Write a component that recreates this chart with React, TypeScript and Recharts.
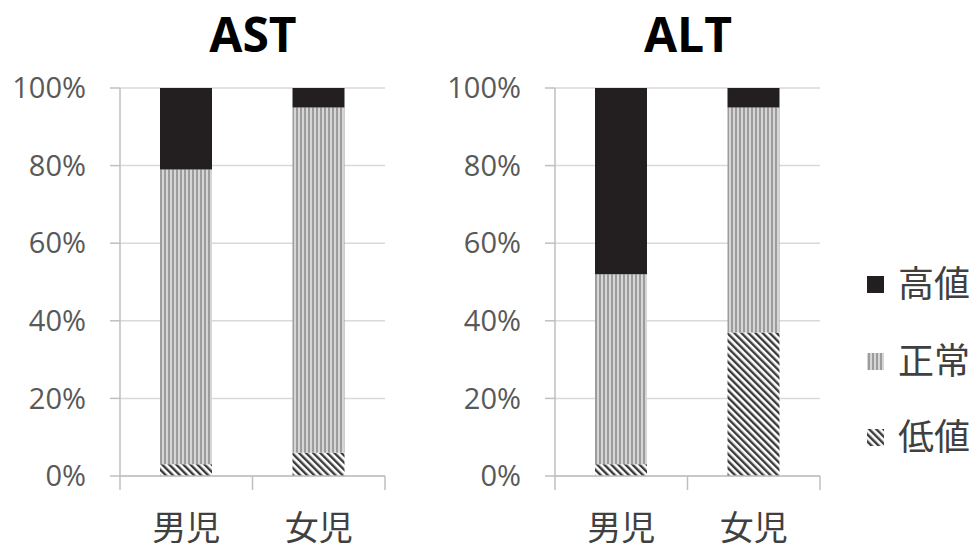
import React from "react";
import { BarChart, Bar, XAxis, YAxis, CartesianGrid } from "recharts";

// values (percent of children)
const categories = ["男児", "女児"];
const astLow = [3, 6];
const astNormal = [76, 89];
const astHigh = [21, 5];
const altLow = [3, 37];
const altNormal = [49, 58];
const altHigh = [48, 5];
const yTicks = [0, 20, 40, 60, 80, 100];
const seriesNames = ["高値", "正常", "低値"];

const AXIS = "#bfbfbf";
const GRID = "#d9d9d9";
const TEXT = "#595959";
const HIGH = "#231f20";

const buildRows = (low: number[], normal: number[], high: number[]) =>
  categories.map((name, i) => ({ name, low: low[i], normal: normal[i], high: high[i] }));

const Patterns = ({ id }: { id: string }) => (
  <defs>
    <pattern id={`${id}-normal`} width="4" height="4" patternUnits="userSpaceOnUse">
      <rect width="4" height="4" fill="#d6d6d6" />
      <rect x="0" width="2" height="4" fill="#9c9c9c" />
    </pattern>
    <pattern
      id={`${id}-low`}
      width="5"
      height="5"
      patternUnits="userSpaceOnUse"
      patternTransform="rotate(-45)"
    >
      <rect width="5" height="5" fill="#ffffff" />
      <rect x="0" width="2.4" height="5" fill="#3a3a3a" />
    </pattern>
  </defs>
);

const CategoryTick = (props: any) => {
  const { x, y, payload, index, visibleTicksCount } = props;
  const half = payload && payload.offset ? payload.offset : 66.25;
  const last = index === (visibleTicksCount ?? 2) - 1;
  return (
    <g>
      <line x1={x - half} x2={x - half} y1={y} y2={y + 14} stroke={AXIS} strokeWidth={1.5} />
      {last && (
        <line x1={x + half} x2={x + half} y1={y} y2={y + 14} stroke={AXIS} strokeWidth={1.5} />
      )}
      <text
        x={x}
        y={y + 64}
        textAnchor="middle"
        fontSize={34}
        fill="#404040"
        fontFamily="'Noto Sans CJK JP', sans-serif"
      >
        {payload.value}
      </text>
    </g>
  );
};

const Panel = ({ id, rows }: { id: string; rows: any[] }) => (
  <BarChart width={400} height={552} data={rows} margin={{ top: 88, right: 15, bottom: 0, left: 0 }}>
    <Patterns id={id} />
    <CartesianGrid vertical={false} stroke={GRID} strokeWidth={1.5} />
    <XAxis
      dataKey="name"
      height={76}
      axisLine={{ stroke: AXIS, strokeWidth: 1.5 }}
      tickLine={false}
      tickSize={0}
      tickMargin={0}
      tick={<CategoryTick />}
      interval={0}
    />
    <YAxis
      width={120}
      domain={[0, 100]}
      ticks={yTicks}
      tickFormatter={(v: number) => `${v}%`}
      axisLine={{ stroke: AXIS, strokeWidth: 1.5 }}
      tickLine={{ stroke: AXIS, strokeWidth: 1.5 }}
      tickSize={10}
      tickMargin={24}
      tick={{ fill: TEXT, fontSize: 29, fontFamily: "'Open Sans', sans-serif" }}
    />
    <Bar dataKey="low" stackId="a" barSize={52} fill={`url(#${id}-low)`} isAnimationActive={false} />
    <Bar dataKey="normal" stackId="a" barSize={52} fill={`url(#${id}-normal)`} isAnimationActive={false} />
    <Bar dataKey="high" stackId="a" barSize={52} fill={HIGH} isAnimationActive={false} />
  </BarChart>
);

export default function App() {
  const legendY = [284, 361, 437];
  return (
    <div style={{ position: "absolute", left: 0, top: 0, width: 972, height: 552, background: "#fff", overflow: "hidden" }}>
      <div style={{ position: "absolute", left: 0, top: 0 }}>
        <Panel id="ast" rows={buildRows(astLow, astNormal, astHigh)} />
      </div>
      <div style={{ position: "absolute", left: 435, top: 0 }}>
        <Panel id="alt" rows={buildRows(altLow, altNormal, altHigh)} />
      </div>
      <svg width={972} height={552} style={{ position: "absolute", left: 0, top: 0, pointerEvents: "none" }}>
        <Patterns id="lg" />
        <text x={253} y={52} textAnchor="middle" fontSize={48} fontWeight="bold" fill="#000" fontFamily="'Open Sans', sans-serif">
          AST
        </text>
        <text x={688} y={52} textAnchor="middle" fontSize={48} fontWeight="bold" fill="#000" fontFamily="'Open Sans', sans-serif">
          ALT
        </text>
        {seriesNames.map((name, i) => (
          <g key={name}>
            <rect
              x={867}
              y={legendY[i] - 8}
              width={17}
              height={17}
              fill={i === 0 ? HIGH : i === 1 ? "url(#lg-normal)" : "url(#lg-low)"}
            />
            <text
              x={898}
              y={legendY[i] + 13}
              fontSize={36}
              fill="#404040"
              fontFamily="'Noto Sans CJK JP', sans-serif"
            >
              {name}
            </text>
          </g>
        ))}
      </svg>
    </div>
  );
}
